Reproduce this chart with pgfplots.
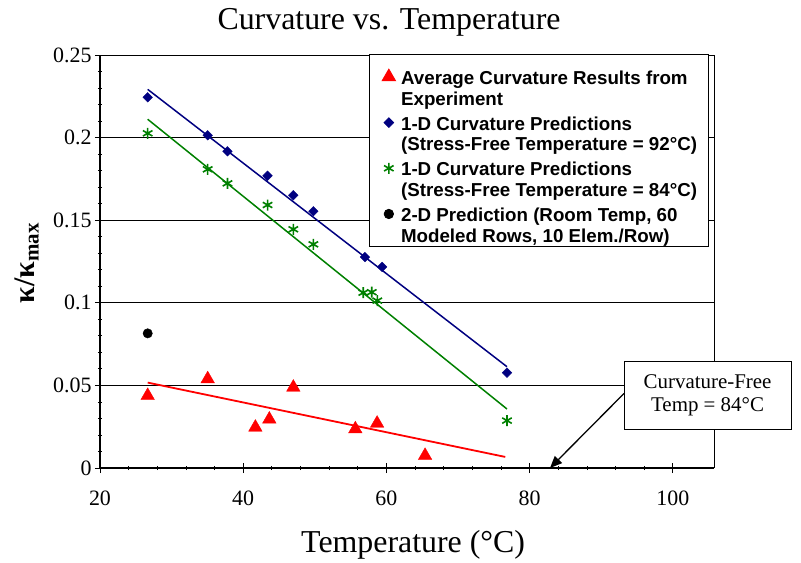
\documentclass[border=0pt]{standalone}
\usepackage{fontspec}
\setmainfont{Liberation Serif}
\newfontfamily\legfont{Liberation Sans}
\usepackage{pgfplots}
\pgfplotsset{compat=1.18}
\usetikzlibrary{arrows.meta}
\definecolor{xlred}{HTML}{FF0000}
\definecolor{xlnavy}{HTML}{000080}
\definecolor{xlgreen}{HTML}{008000}
\begin{document}
\begin{tikzpicture}
\begin{axis}[
  scale only axis, width=614bp, height=413bp,
  xmin=20, xmax=105.75, ymin=0, ymax=0.25,
  clip=false,
  axis x line*=bottom, axis y line*=left,
  axis line style={line width=1.5bp, black},
  xtick={20,40,60,80,100},
  ytick={0,0.05,0.1,0.15,0.2,0.25},
  minor x tick num=4, minor y tick num=4,
  tick align=center, major tick length=10bp, minor tick length=4bp,
  tick style={black, line width=0.8bp},
  ymajorgrids, grid style={black, line width=0.8bp},
  /pgf/number format/assume math mode=true,
  yticklabel style={/pgf/number format/fixed, /pgf/number format/precision=2},
  xticklabel style={yshift=-14bp},
  ticklabel style={font=\fontsize{22}{24}\selectfont},
  title={Curvature vs. Temperature},
  title style={font=\fontsize{32}{36}\selectfont, at={(axis description cs:0.4707,1)}, anchor=base, yshift=20bp},
  xlabel={Temperature (°C)},
  xlabel style={font=\fontsize{32}{36}\selectfont, at={(axis description cs:0.51,0)}, anchor=base, yshift=-84bp},
  ylabel={\textbf{κ/κ\textsubscript{max}}},
  ylabel style={font=\fontsize{30}{34}\selectfont, at={(axis description cs:-0.119,0.496)}, anchor=center},
  legend style={at={(axis description cs:0.438,1.0024)}, anchor=north west, draw=black, line width=0.8bp, fill=white,
    inner xsep=11bp, inner ysep=2.7bp, row sep=9.9bp, column sep=5.5bp,
    cells={anchor=west, align=left}, nodes={inner sep=0pt},
    font=\legfont\bfseries\fontsize{18.8}{20.8}\selectfont},
  legend image post style={yshift=12bp},
]
% trend lines
\addplot[xlnavy, line width=1.5bp, forget plot] coordinates {(26.66,0.2292) (76.84,0.0613)};
\addplot[xlgreen, line width=1.5bp, forget plot] coordinates {(26.66,0.2111) (76.84,0.0357)};
\addplot[xlred, line width=1.8bp, forget plot] coordinates {(26.66,0.0517) (76.6,0.0067)};
% spacer row at the top of the legend
\addlegendimage{empty legend}
\addlegendentry{\rule{0pt}{0.6bp}}
% data
\addplot[only marks, mark=triangle*, mark size=7.8bp, color=xlred] coordinates {
  (26.66,0.0438) (35.04,0.0539) (41.7,0.0246) (43.65,0.0295) (47.0,0.0488) (55.66,0.0236) (58.7,0.0270) (65.4,0.0075)};
\addlegendentry{Average Curvature Results from\\Experiment}
\addplot[only marks, mark=square*, mark size=3.4bp, mark options={rotate=45}, color=xlnavy] coordinates {
  (26.66,0.2244) (35.04,0.2014) (37.8,0.1917) (43.4,0.1769) (47.0,0.1651) (49.8,0.1554) (57.0,0.1277) (59.4,0.1217) (76.84,0.0577)};
\addlegendentry{1-D Curvature Predictions\\(Stress-Free Temperature = 92°C)}
\addplot[only marks, mark=asterisk, mark size=5.5bp, mark options={line width=1.6bp}, color=xlgreen] coordinates {
  (26.66,0.2026) (35.04,0.1808) (37.8,0.1723) (43.4,0.1592) (47.0,0.1445) (49.8,0.1354) (56.77,0.1061) (57.95,0.1064) (58.73,0.1013) (76.84,0.0287)};
\addlegendentry{1-D Curvature Predictions\\(Stress-Free Temperature = 84°C)}
\addplot[only marks, mark=*, mark size=4.7bp, color=black] coordinates {(26.66,0.0815)};
\addlegendentry{2-D Prediction (Room Temp, 60\\Modeled Rows, 10 Elem./Row)}
% frame top and right
\draw[line width=0.8bp] (rel axis cs:0,1) -- (rel axis cs:1,1) -- (rel axis cs:1,0);
% annotation
\draw[-{Triangle[length=12bp,width=10bp]}, line width=1.3bp] (axis cs:93.18,0.0451) -- (axis cs:82.85,0);
\node[draw, line width=0.8bp, fill=white, minimum width=167bp, minimum height=68bp, align=center,
  font=\fontsize{21}{23}\selectfont, inner sep=0pt] at (axis cs:104.85,0.0442) {Curvature-Free\\Temp = 84°C};
\end{axis}
\pgfresetboundingbox
\path[use as bounding box] (current axis.south west) ++(-100bp,-95bp) rectangle ++(801bp,563bp);
\end{tikzpicture}
\end{document}
